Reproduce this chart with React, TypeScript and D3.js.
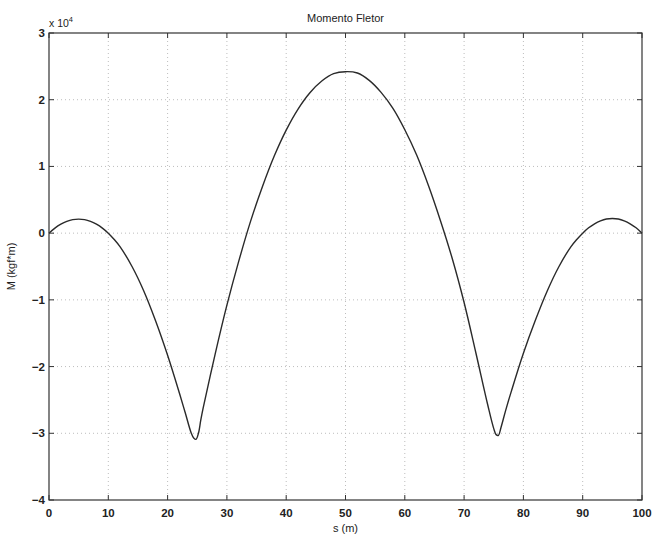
import React from "react";
import * as d3 from "d3";

// Beam position s (m)
const sValues: number[] = [
  0, 1, 2, 3, 4, 5, 6, 7, 8, 9, 10, 11, 12, 14, 16, 18, 20, 22, 23, 24, 24.4, 24.8, 25.2, 25.6,
  26, 28, 30, 32, 34, 36, 38, 40, 42, 44, 46, 48, 50, 52, 54, 56, 58, 60, 62, 64, 66, 68, 70, 72, 74,
  75, 75.4, 75.8, 76.2, 77, 78, 80, 82, 84, 86, 88, 89, 90, 91, 92, 93, 94, 95, 96, 97, 98, 99, 100,
];
// Bending moment M (x 10^4 kgf*m)
const mValues: number[] = [
  0, 0.076, 0.134, 0.176, 0.202, 0.21, 0.202, 0.176, 0.134, 0.076, 0, -0.095, -0.205, -0.5, -0.87, -1.32, -1.83, -2.4, -2.7, -3.0, -3.07, -3.09, -3.0, -2.8,
  -2.62, -1.82, -1.08, -0.42, 0.18, 0.7, 1.16, 1.545, 1.86, 2.105, 2.28, 2.39, 2.42, 2.4, 2.29, 2.11, 1.87, 1.55, 1.17, 0.71, 0.19, -0.38, -1.04, -1.8, -2.58,
  -2.93, -3.02, -3.03, -2.92, -2.66, -2.36, -1.8, -1.31, -0.87, -0.5, -0.205, -0.095, 0, 0.08, 0.14, 0.184, 0.212, 0.22, 0.212, 0.184, 0.14, 0.08, 0,
];

const xTicks: number[] = [0, 10, 20, 30, 40, 50, 60, 70, 80, 90, 100];
const yTicks: number[] = [3, 2, 1, 0, -1, -2, -3, -4];

const titleText = "Momento Fletor";
const xLabelText = "s (m)";
const yLabelText = "M (kgf*m)";

const W = 656;
const H = 539;
const left = 49;
const right = 642;
const top = 33;
const bottom = 500;

export default function App() {
  React.useEffect(() => {
    document.body.style.margin = "0";
  }, []);

  const x = d3.scaleLinear().domain([0, 100]).range([left, right]);
  const y = d3.scaleLinear().domain([-4, 3]).range([bottom, top]);

  const points: [number, number][] = sValues.map((s, i) => [s, mValues[i]]);
  const line = d3
    .line<[number, number]>()
    .x((d) => x(d[0]))
    .y((d) => y(d[1]))
    .curve(d3.curveCatmullRom.alpha(0.5));

  const axisColor = "#333";
  const gridColor = "#bdbdbd";
  const textColor = "#222";
  const font = "Liberation Sans, Arial, sans-serif";
  const tickLen = 5;

  return (
    <svg
      width={W}
      height={H}
      style={{ position: "absolute", left: 0, top: 0, background: "#fff" }}
      fontFamily={font}
    >
      <rect x={0} y={0} width={W} height={H} fill="#fff" />
      {/* grid */}
      {xTicks.slice(1, -1).map((t) => (
        <line
          key={"gx" + t}
          x1={x(t)}
          x2={x(t)}
          y1={top}
          y2={bottom}
          stroke={gridColor}
          strokeWidth={1}
          strokeDasharray="1,3"
        />
      ))}
      {yTicks.slice(1, -1).map((t) => (
        <line
          key={"gy" + t}
          x1={left}
          x2={right}
          y1={y(t)}
          y2={y(t)}
          stroke={gridColor}
          strokeWidth={1}
          strokeDasharray="1,3"
        />
      ))}
      {/* curve */}
      <path d={line(points) || ""} fill="none" stroke="#2a2a2a" strokeWidth={1.4} />
      {/* box */}
      <rect x={left} y={top} width={right - left} height={bottom - top} fill="none" stroke={axisColor} strokeWidth={1.2} />
      {/* ticks */}
      {xTicks.map((t) => (
        <g key={"tx" + t}>
          <line x1={x(t)} x2={x(t)} y1={bottom} y2={bottom - tickLen} stroke={axisColor} strokeWidth={1} />
          <line x1={x(t)} x2={x(t)} y1={top} y2={top + tickLen} stroke={axisColor} strokeWidth={1} />
          <text x={x(t)} y={517} textAnchor="middle" fontSize={11.5} fontWeight="bold" fill={textColor}>
            {t}
          </text>
        </g>
      ))}
      {yTicks.map((t) => (
        <g key={"ty" + t}>
          <line x1={left} x2={left + tickLen} y1={y(t)} y2={y(t)} stroke={axisColor} strokeWidth={1} />
          <line x1={right} x2={right - tickLen} y1={y(t)} y2={y(t)} stroke={axisColor} strokeWidth={1} />
          <text x={left - 4} y={y(t) + 4} textAnchor="end" fontSize={11.5} fontWeight="bold" fill={textColor}>
            {t < 0 ? "\u2212" + Math.abs(t) : String(t)}
          </text>
        </g>
      ))}
      {/* exponent */}
      <text x={49} y={27} fontSize={10.5} fill={textColor}>
        x 10
        <tspan dy={-5} fontSize={7.5}>4</tspan>
      </text>
      {/* title */}
      <text x={(left + right) / 2} y={22} textAnchor="middle" fontSize={11} fill={textColor}>
        {titleText}
      </text>
      {/* x label */}
      <text x={(left + right) / 2} y={532} textAnchor="middle" fontSize={11} fill={textColor}>
        {xLabelText}
      </text>
      {/* y label */}
      <text
        transform={`translate(15, ${(top + bottom) / 2}) rotate(-90)`}
        textAnchor="middle"
        fontSize={11}
        fill={textColor}
      >
        {yLabelText}
      </text>
    </svg>
  );
}
